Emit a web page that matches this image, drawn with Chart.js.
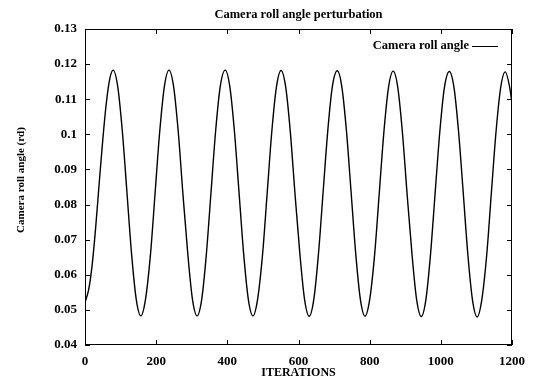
<!DOCTYPE html>
<html>
<head>
<meta charset="utf-8">
<script src="https://cdn.jsdelivr.net/npm/chart.js@4"></script>
<style>
  html, body { margin:0; padding:0; background:#fff; }
  #wrap { width:534px; height:378px; }
</style>
</head>
<body>
<div id="wrap"><canvas id="chart" width="534" height="378"></canvas></div>
<script>
const chartTitle = 'Camera roll angle perturbation';
const seriesLabel = 'Camera roll angle';
const xTitle = 'ITERATIONS';
const yTitle = 'Camera roll angle (rd)';

const xTicks = [0, 200, 400, 600, 800, 1000, 1200];
const yTicks = [0.04, 0.05, 0.06, 0.07, 0.08, 0.09, 0.1, 0.11, 0.12, 0.13];

// iterations
const iterations = [
  0, 10, 20, 30, 40, 50, 60, 70,
  79, 92, 105, 118, 131, 144, 157, 170, 184, 197, 210, 223,
  236, 249, 262, 275, 289, 302, 315, 328, 341, 354, 367, 380,
  394, 407, 420, 433, 446, 459, 472, 485, 499, 512, 525, 538,
  551, 564, 577, 590, 604, 617, 630, 643, 656, 669, 682, 695,
  709, 722, 735, 748, 761, 774, 787, 800, 814, 827, 840, 853,
  866, 879, 892, 905, 919, 932, 945, 958, 971, 984, 997, 1010,
  1024, 1037, 1050, 1063, 1076, 1089, 1102, 1115, 1129, 1142, 1155, 1168,
  1181, 1194, 1200
];

// roll angle (rd)
const rollAngle = [
  0.0522, 0.0556, 0.0627, 0.0735, 0.0862, 0.0985, 0.1090, 0.1160,
  0.1183, 0.1136, 0.1008, 0.0833, 0.0658, 0.0530, 0.0483, 0.0530, 0.0658, 0.0833, 0.1008, 0.1136,
  0.1183, 0.1136, 0.1008, 0.0833, 0.0658, 0.0530, 0.0483, 0.0530, 0.0658, 0.0833, 0.1008, 0.1136,
  0.1183, 0.1136, 0.1008, 0.0833, 0.0658, 0.0530, 0.0483, 0.0530, 0.0658, 0.0833, 0.1008, 0.1135,
  0.1182, 0.1135, 0.1007, 0.0833, 0.0658, 0.0530, 0.0482, 0.0530, 0.0658, 0.0833, 0.1007, 0.1135,
  0.1181, 0.1134, 0.1007, 0.0833, 0.0658, 0.0529, 0.0482, 0.0529, 0.0658, 0.0833, 0.1007, 0.1134,
  0.1180, 0.1134, 0.1006, 0.0833, 0.0658, 0.0529, 0.0481, 0.0529, 0.0658, 0.0833, 0.1006, 0.1133,
  0.1179, 0.1133, 0.1006, 0.0833, 0.0657, 0.0528, 0.0480, 0.0528, 0.0657, 0.0833, 0.1006, 0.1132,
  0.1178, 0.1131, 0.1087
];

const FONT = '"Liberation Serif", "DejaVu Serif", serif';

// gnuplot-like frame, inward ticks on all sides, legend inside top right, titles
const frameTicks = {
  id: 'frameTicks',
  afterDraw(chart) {
    const { ctx, chartArea: a, scales } = chart;
    const len = 5;
    ctx.save();
    ctx.strokeStyle = '#000';
    ctx.lineWidth = 1;
    ctx.strokeRect(a.left + 0.5, a.top + 0.5, a.right - a.left - 1, a.bottom - a.top - 1);
    ctx.beginPath();
    xTicks.forEach(v => {
      const x = Math.round(scales.x.getPixelForValue(v)) + 0.5;
      ctx.moveTo(x, a.bottom); ctx.lineTo(x, a.bottom - len);
      ctx.moveTo(x, a.top); ctx.lineTo(x, a.top + len);
    });
    yTicks.forEach(v => {
      const y = Math.round(scales.y.getPixelForValue(v)) + 0.5;
      ctx.moveTo(a.left, y); ctx.lineTo(a.left + len, y);
      ctx.moveTo(a.right, y); ctx.lineTo(a.right - len, y);
    });
    ctx.stroke();

    ctx.fillStyle = '#000';
    ctx.textBaseline = 'middle';

    // title
    ctx.font = 'bold 12.5px ' + FONT;
    ctx.textAlign = 'center';
    ctx.fillText(chartTitle, (a.left + a.right) / 2, 15);

    // y axis title
    ctx.save();
    ctx.font = 'bold 11px ' + FONT;
    ctx.translate(21.5, 180);
    ctx.rotate(-Math.PI / 2);
    ctx.fillText(yTitle, 0, 0);
    ctx.restore();

    // legend
    ctx.font = 'bold 12.5px ' + FONT;
    ctx.textAlign = 'right';
    ctx.fillText(chart.data.datasets[0].label, a.right - 43, a.top + 17);
    ctx.beginPath();
    ctx.moveTo(a.right - 40, a.top + 17.5);
    ctx.lineTo(a.right - 14, a.top + 17.5);
    ctx.stroke();
    ctx.restore();
  }
};

new Chart(document.getElementById('chart').getContext('2d'), {
  type: 'line',
  data: {
    datasets: [{
      label: seriesLabel,
      data: iterations.map((x, i) => ({ x, y: rollAngle[i] })),
      borderColor: '#000',
      borderWidth: 1.4,
      pointRadius: 0,
      fill: false,
      cubicInterpolationMode: 'monotone'
    }]
  },
  options: {
    responsive: false,
    animation: false,
    layout: { padding: { left: 0, right: 21, top: 29, bottom: 0 } },
    plugins: { legend: { display: false }, title: { display: false }, tooltip: { enabled: false } },
    scales: {
      x: {
        type: 'linear', min: 0, max: 1200,
        afterBuildTicks: s => { s.ticks = xTicks.map(value => ({ value })); },
        afterFit: s => { s.height = 33; },
        grid: { display: false, drawTicks: false },
        border: { display: false },
        ticks: { color: '#000', padding: 9, font: { family: FONT, size: 13, weight: 'bold' }, callback: v => String(v), maxRotation: 0 },
        title: { display: true, text: xTitle, color: '#000', font: { family: FONT, size: 12, weight: 'bold', lineHeight: 0.8 }, padding: { top: 0, bottom: 0 } }
      },
      y: {
        type: 'linear', min: 0.04, max: 0.13,
        afterBuildTicks: s => { s.ticks = yTicks.map(value => ({ value })); },
        afterFit: s => { s.width = 85; },
        grid: { display: false, drawTicks: false },
        border: { display: false },
        ticks: { color: '#000', padding: 8, font: { family: FONT, size: 13, weight: 'bold' }, callback: v => String(+v.toFixed(2)) },
        title: { display: false }
      }
    }
  },
  plugins: [frameTicks]
});
</script>
</body>
</html>
